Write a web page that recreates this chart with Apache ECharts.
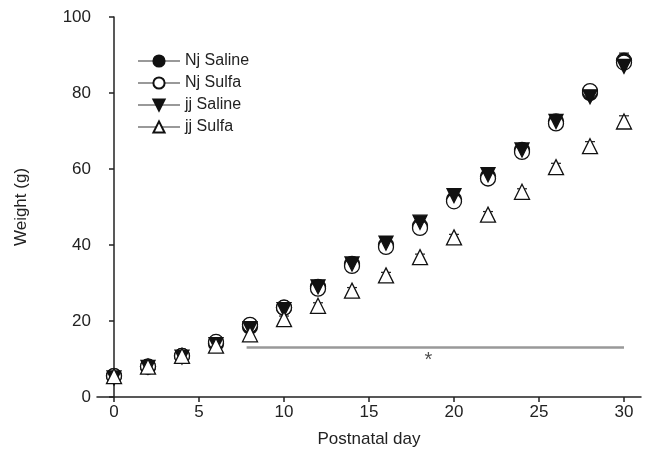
<!DOCTYPE html>
<html>
<head>
<meta charset="utf-8">
<script src="https://cdn.jsdelivr.net/npm/echarts@6/dist/echarts.min.js"></script>
<style>
  html, body { margin: 0; padding: 0; background: #fff; }
  #main { width: 649px; height: 461px; }
</style>
</head>
<body>
<div id="main"></div>
<script>
// postnatal days
var days = [0, 2, 4, 6, 8, 10, 12, 14, 16, 18, 20, 22, 24, 26, 28, 30];
// weights (g)
var njSaline = [5.5, 8, 10.8, 14, 18.5, 23.5, 29, 35, 40, 45, 52, 58, 65, 72.5, 80, 88.5];
var njSulfa  = [5.5, 8, 10.8, 14.5, 19, 23.5, 28.5, 34.5, 39.5, 44.5, 51.5, 57.5, 64.5, 72, 80.5, 88];
var jjSaline = [5, 7.8, 10.5, 13.8, 18, 23, 29, 35, 40.5, 46, 53, 58.5, 65, 72.5, 79, 87];
var jjSulfa  = [5.5, 8, 10.8, 13.5, 16.5, 20.5, 24, 28, 32, 36.8, 42, 48, 54, 60.5, 66, 72.5];
// error bars (SEM)
var njSalineErr = [0.5, 0.5, 0.5, 0.6, 0.8, 0.8, 1, 1, 1, 1.2, 1.5, 1.5, 1.5, 1.5, 1.5, 2];
var jjSulfaErr  = [0.5, 0.5, 0.5, 0.6, 0.8, 0.8, 0.8, 0.8, 0.8, 0.8, 0.8, 0.8, 0.8, 1, 1.2, 1.5];
var xTicks = [0, 5, 10, 15, 20, 25, 30];
// significance bar and asterisk
var sigRange = [7.8, 30];
var sigLevel = 13;
var starPos = [18.5, 9.6];

function pairs(ys) {
  return days.map(function (d, i) { return [d, ys[i]]; });
}
function errData(ys, es) {
  return days.map(function (d, i) { return [d, ys[i] - es[i], ys[i] + es[i]]; });
}
function errorSeries(ys, es) {
  return {
    type: "custom",
    z: 1,
    silent: true,
    data: errData(ys, es),
    renderItem: function (params, api) {
      var lo = api.coord([api.value(0), api.value(1)]);
      var hi = api.coord([api.value(0), api.value(2)]);
      var w = 5;
      var style = { stroke: "#222", lineWidth: 1.2 };
      return {
        type: "group",
        children: [
          { type: "line", shape: { x1: lo[0], y1: lo[1], x2: hi[0], y2: hi[1] }, style: style },
          { type: "line", shape: { x1: lo[0] - w, y1: lo[1], x2: lo[0] + w, y2: lo[1] }, style: style },
          { type: "line", shape: { x1: hi[0] - w, y1: hi[1], x2: hi[0] + w, y2: hi[1] }, style: style }
        ]
      };
    }
  };
}

function pointSeries(name, ys, symbol, fill, rotate, size) {
  return {
    name: name,
    type: "line",
    data: pairs(ys),
    symbol: symbol,
    symbolSize: size,
    symbolRotate: rotate,
    showAllSymbol: true,
    lineStyle: { width: 0, opacity: 0 },
    itemStyle: { color: fill, borderColor: "#111", borderWidth: 1.3 },
    z: 3
  };
}

var chart = echarts.init(document.getElementById("main"));
chart.setOption({
  animation: false,
  textStyle: { fontFamily: "Liberation Sans, Arial, sans-serif" },
  grid: { left: 97, right: 8, top: 17, bottom: 64 },
  legend: {
    data: ["Nj Saline", "Nj Sulfa", "jj Saline", "jj Sulfa"],
    orient: "vertical",
    left: 132,
    top: 48,
    itemWidth: 42,
    itemHeight: 14,
    itemGap: 6,
    lineStyle: { color: "#999", width: 2, opacity: 1 },
    textStyle: { fontSize: 16, color: "#222", fontFamily: "Liberation Sans, Arial, sans-serif" }
  },
  xAxis: {
    type: "value",
    min: -1,
    max: 31,
    name: "Postnatal day",
    nameLocation: "middle",
    nameGap: 34,
    nameTextStyle: { fontSize: 17, color: "#222" },
    splitLine: { show: false },
    axisLine: { lineStyle: { color: "#222", width: 1.5 } },
    axisTick: { customValues: xTicks, length: 5, lineStyle: { color: "#222", width: 1.5 } },
    axisLabel: { customValues: xTicks, fontSize: 17, color: "#222", margin: 7 }
  },
  yAxis: {
    type: "value",
    min: 0,
    max: 100,
    interval: 20,
    name: "Weight (g)",
    nameLocation: "middle",
    nameGap: 67,
    nameTextStyle: { fontSize: 17, color: "#222" },
    splitLine: { show: false },
    axisLine: { show: true, lineStyle: { color: "#222", width: 1.5 } },
    axisTick: { show: true, length: 5, lineStyle: { color: "#222", width: 1.5 } },
    axisLabel: { fontSize: 17, color: "#222", margin: 6 }
  },
  series: [
    errorSeries(njSaline, njSalineErr),
    errorSeries(jjSulfa, jjSulfaErr),
    pointSeries("Nj Saline", njSaline, "circle", "#111", 0, 15),
    pointSeries("Nj Sulfa", njSulfa, "circle", "#fff", 0, 15),
    pointSeries("jj Saline", jjSaline, "triangle", "#111", 180, 14),
    pointSeries("jj Sulfa", jjSulfa, "triangle", "#fff", 0, 15),
    {
      type: "line",
      silent: true,
      symbol: "none",
      data: [[sigRange[0], sigLevel], [sigRange[1], sigLevel]],
      lineStyle: { color: "#999", width: 2.5 },
      z: 2
    },
    {
      type: "scatter",
      silent: true,
      symbolSize: 0,
      data: [starPos],
      label: { show: true, position: "inside", formatter: "*", fontSize: 20, color: "#222" }
    }
  ]
});
</script>
</body>
</html>
